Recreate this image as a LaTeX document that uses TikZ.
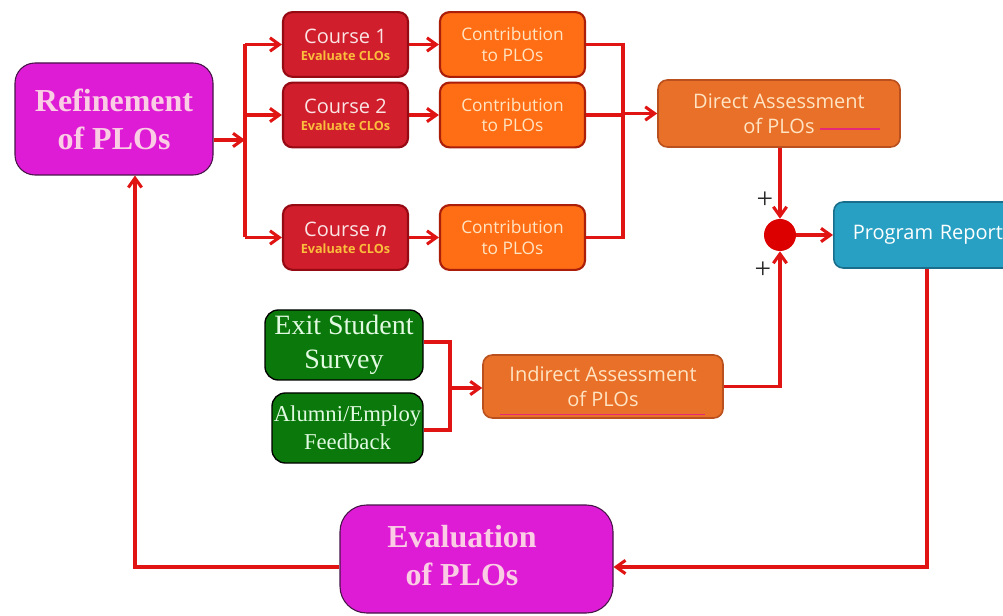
\documentclass[tikz,border=0pt]{standalone}
\usepackage{fontspec}
\setmainfont{Liberation Serif}
\newfontfamily\osans{Open Sans}
\usetikzlibrary{arrows.meta,calc}
\definecolor{linkred}{RGB}{225,20,20}
\definecolor{mag}{RGB}{222,28,214}
\definecolor{magtext}{RGB}{250,205,228}
\definecolor{magborder}{RGB}{70,20,70}
\definecolor{coursefill}{RGB}{208,30,45}
\definecolor{courseborder}{RGB}{150,10,20}
\definecolor{coursetext}{RGB}{250,228,228}
\definecolor{cloyel}{RGB}{250,190,60}
\definecolor{contfill}{RGB}{255,110,20}
\definecolor{contborder}{RGB}{170,30,10}
\definecolor{conttext}{RGB}{255,228,195}
\definecolor{assfill}{RGB}{232,112,40}
\definecolor{assborder}{RGB}{185,80,30}
\definecolor{progfill}{RGB}{40,160,195}
\definecolor{progborder}{RGB}{25,110,140}
\definecolor{grfill}{RGB}{10,120,10}
\definecolor{grtext}{RGB}{225,250,225}
\definecolor{pinkline}{RGB}{230,40,120}
\definecolor{plusgray}{RGB}{40,40,40}
\definecolor{sumred}{RGB}{220,0,0}
\tikzset{
  link/.style={draw=linkred, line width=2.3pt},
  arr/.style={link, -{Straight Barb[length=7pt,width=10pt]}},
  magbox/.style={draw=magborder, line width=0.8pt, fill=mag, rounded corners=15pt,
    text=magtext, font=\bfseries\fontsize{24}{28.5}\selectfont, align=center, inner sep=0pt},
  coursebox/.style={draw=courseborder, line width=1.6pt, fill=coursefill, rounded corners=7pt,
    text=coursetext, font=\osans\fontsize{15}{17}\selectfont, align=center, inner sep=0pt,
    minimum width=93.75pt, minimum height=48.5pt},
  contbox/.style={draw=contborder, line width=1.6pt, fill=contfill, rounded corners=7pt,
    text=conttext, font=\osans\fontsize{13}{15.7}\selectfont, align=center, inner sep=0pt,
    minimum width=108.75pt, minimum height=48.5pt},
  assbox/.style={draw=assborder, line width=1.2pt, fill=assfill, rounded corners=7pt,
    text=conttext, font=\osans\fontsize{15}{18.7}\selectfont, align=center, inner sep=0pt},
  progbox/.style={draw=progborder, line width=1.2pt, fill=progfill, rounded corners=7pt,
    text=white, font=\osans\fontsize{15}{18}\selectfont, align=left, inner ysep=0pt,
    inner xsep=14.25pt, text width=134pt, minimum height=49.5pt},
  greenbox/.style={draw=black, line width=1pt, fill=grfill, rounded corners=10pt,
    text=grtext, align=center, inner sep=0pt},
  plus/.style={font=\fontsize{22}{22}\selectfont, text=plusgray, inner sep=0pt},
}
\begin{document}
\begin{tikzpicture}[x=0.75pt,y=-0.75pt]
\useasboundingbox[fill=white] (0,0) rectangle (1003,616);

% boxes
\node[magbox, minimum width=148.5pt, minimum height=84pt] (ref) at (114,119) {Refinement\\of PLOs};
\node[coursebox] (c1) at (345.5,44.5) {Course 1\\[-4pt]{\fontsize{9.5}{10}\selectfont\bfseries\color{cloyel}Evaluate CLOs}};
\node[coursebox] (c2) at (345.5,115) {Course 2\\[-4pt]{\fontsize{9.5}{10}\selectfont\bfseries\color{cloyel}Evaluate CLOs}};
\node[coursebox] (cn) at (345.5,237.5) {Course \textit{n}\\[-4pt]{\fontsize{9.5}{10}\selectfont\bfseries\color{cloyel}Evaluate CLOs}};
\node[contbox] (p1) at (512.5,44.5) {Contribution\\to PLOs};
\node[contbox] (p2) at (512.5,115) {Contribution\\to PLOs};
\node[contbox] (pn) at (512.5,237.5) {Contribution\\to PLOs};
\node[assbox, minimum width=181.5pt, minimum height=50.25pt] (dir) at (779,113.5) {Direct Assessment\\of PLOs\hspace{56pt}};
\node[circle, fill=sumred, minimum size=24pt, inner sep=0pt] (sum) at (780,235) {};
\node[progbox, anchor=west] (prog) at (833,235) {Program Report};
\node[greenbox, minimum width=118.5pt, minimum height=52.5pt, font=\fontsize{21}{25.5}\selectfont] (exit) at (344,345) {Exit Student\\Survey};
\node[greenbox, minimum width=113.25pt, minimum height=52.5pt, font=\fontsize{17}{21}\selectfont] (alum) at (347.5,428) {Alumni/Employ\\Feedback};
\node[assbox, minimum width=180pt, minimum height=47.25pt] (ind) at (603,386.5) {Indirect Assessment\\of PLOs};
\node[magbox, rounded corners=20pt, minimum width=204.75pt, minimum height=81pt] (eval) at (476.5,559) {};
\node[text=magtext, font=\bfseries\fontsize{24}{28.5}\selectfont, align=center, inner sep=0pt] (evaltext) at (462,556) {Evaluation\\of PLOs};

% pink underlines
\draw[pinkline, line width=1pt] (820,129) -- (880,129);
\draw[pinkline, line width=1pt] (500,414.5) -- (705,414.5);

% plus signs
\node[plus] (plus1) at (765,200) {+};
\node[plus] (plus2) at (763,270) {+};

% coordinates
\coordinate (busL) at (245,140);
\coordinate (busLt) at (245,44.5);
\coordinate (busLm) at (245,115);
\coordinate (busLb) at (245,237.5);
\coordinate (busRt) at (623,44.5);
\coordinate (busRm) at (623,113.5);
\coordinate (busRb) at (623,237.5);
\coordinate (gbus) at (450,388);
\coordinate (gtop) at (450,342);
\coordinate (gbot) at (450,430);
\coordinate (indc) at (780,386.5);
\coordinate (prc) at (927,567);
\coordinate (lc) at (135,567);

% connectors
\draw[arr] (ref.east |- busL) -- (busL);
\draw[link] (busLt) -- (busLb);
\draw[arr] (busLt) -- (c1.west);
\draw[arr] (busLm) -- (c2.west);
\draw[arr] (busLb) -- (cn.west);
\draw[arr] (c1.east) -- (p1.west);
\draw[arr] (c2.east) -- (p2.west);
\draw[arr] (cn.east) -- (pn.west);
\draw[link] (p1.east) -- (busRt) -- (busRb) -- (pn.east);
\draw[link] (p2.east) -- (busRm |- p2.east);
\draw[arr] (busRm) -- (dir.west);
\draw[arr] (dir.south -| sum) -- (sum.north);
\draw[arr] (sum.east) -- (prog.west);
\draw[link] (exit.east |- gtop) -- (gtop) -- (gbot) -- (alum.east |- gbot);
\draw[arr] (gbus) -- (ind.west |- gbus);
\draw[arr] (ind.east) -- (indc) -- (sum.south);
\draw[arr] (prc |- prog.south) -- (prc) -- (eval.east |- prc);
\draw[arr] (eval.west |- lc) -- (lc) -- (lc |- ref.south);
\end{tikzpicture}
\end{document}
